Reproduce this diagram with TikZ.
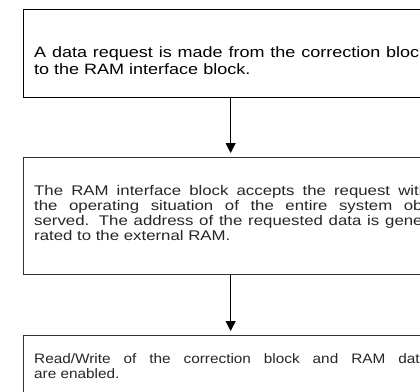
\documentclass[tikz,border=0pt]{standalone}
\usepackage{fontspec}
\setmainfont{Liberation Sans}
\newfontfamily\fonta{Liberation Sans}[FakeStretch=1.2]
\newfontfamily\fontb{Liberation Sans}[FakeStretch=1.2]
\newfontfamily\fontc{Liberation Sans}[FakeStretch=1.12]
\usetikzlibrary{arrows.meta}
\tikzset{
  box/.style={draw=black, line width=1.3pt, rectangle, inner sep=0pt, minimum width=414pt},
  flow/.style={draw=black, line width=1.1pt, -{Triangle[width=10pt,length=10pt]}, shorten >=4pt},
  jline/.style={anchor=base west, inner sep=0pt, font=\fonta\fontsize{15}{17}\selectfont},
  lline/.style={anchor=base west, inner sep=0pt, font=\fontb\fontsize{14}{15}\selectfont, text=black!85},
  cline/.style={anchor=base west, inner sep=0pt, font=\fontc\fontsize{13.7}{15}\selectfont, text=black!85}
}
\newcommand{\jst}[1]{\makebox[394pt][s]{#1}}
\begin{document}
\begin{tikzpicture}[x=1pt,y=-1pt]
\useasboundingbox (0,0) rectangle (420,391);
\clip (0,0) rectangle (420,391);
\fill[white] (0,0) rectangle (420,391);
% boxes
\node[box, minimum height=88pt, anchor=north west] (b1) at (23,9) {};
\node[box, draw=black!80, minimum height=117pt, anchor=north west] (b2) at (23,157) {};
\node[box, draw=black!80, minimum height=80pt, anchor=north west] (b3) at (23,335) {};
% texts
\node[jline] (t11) at (34,57) {\jst{A data request is made from the correction block}};
\node[jline] (t12) at (34,74) {to the RAM interface block.};
\node[lline] (t21) at (34,195) {\jst{The RAM interface block accepts the request with}};
\node[lline] (t22) at (34,210) {\jst{the operating situation of the entire system ob-}};
\node[lline] (t23) at (34,225) {\jst{served. The address of the requested data is gene-}};
\node[lline] (t24) at (34,240) {rated to the external RAM.};
\node[cline] (t31) at (34,363) {\jst{Read/Write of the correction block and RAM data}};
\node[cline] (t32) at (34,378) {are enabled.};
% connectors
\draw[flow] (b1.south) -- (b2.north);
\draw[flow] (b2.south) -- (b3.north);
\end{tikzpicture}
\end{document}
